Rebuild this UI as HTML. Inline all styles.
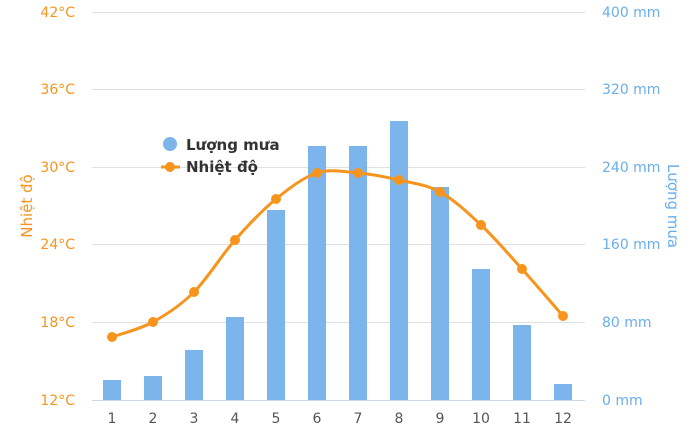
<!DOCTYPE html>
<html><head><meta charset="utf-8"><style>
body{margin:0;background:#fff}
svg{display:block;font-family:"DejaVu Sans","Liberation Sans",sans-serif}
</style></head><body>
<svg id="c" width="700" height="443" viewBox="0 0 700 443">
<g stroke="#e0e0e0" stroke-width="1">
<line x1="92" x2="585" y1="12.5" y2="12.5"/>
<line x1="92" x2="585" y1="89.5" y2="89.5"/>
<line x1="92" x2="585" y1="167.5" y2="167.5"/>
<line x1="92" x2="585" y1="244.5" y2="244.5"/>
<line x1="92" x2="585" y1="322.5" y2="322.5"/>
</g>
<line x1="92" x2="585" y1="400.5" y2="400.5" stroke="#ccd6eb"/>
<g font-size="14" fill="#f7941d" text-anchor="end">
<text x="75" y="17">42°C</text><text x="75" y="94">36°C</text><text x="75" y="172">30°C</text>
<text x="75" y="249">24°C</text><text x="75" y="327">18°C</text><text x="75" y="405">12°C</text>
</g>
<g font-size="14" fill="#6aaeeb" text-anchor="start">
<text x="602" y="17">400 mm</text><text x="602" y="94">320 mm</text><text x="602" y="172">240 mm</text>
<text x="602" y="249">160 mm</text><text x="602" y="327">80 mm</text><text x="602" y="405">0 mm</text>
</g>
<text transform="translate(32,206) rotate(-90)" text-anchor="middle" font-size="15" fill="#f7941d">Nhiệt độ</text>
<text transform="translate(668,206) rotate(90)" text-anchor="middle" font-size="15" fill="#6aaeeb">Lượng mưa</text>
<g id="bars" fill="#7cb5ec"></g>
<path id="line" fill="none" stroke="#f7941d" stroke-width="3"/>
<g id="pts" fill="#f7941d"></g>
<g id="xl" font-size="14" fill="#555" text-anchor="middle"></g>
<circle cx="170" cy="144" r="7" fill="#7cb5ec"/>
<text x="186" y="150" font-size="15" font-weight="bold" fill="#333">Lượng mưa</text>
<line x1="161" x2="180" y1="167" y2="167" stroke="#f7941d" stroke-width="3"/>
<circle cx="170" cy="167" r="5" fill="#f7941d"/>
<text x="186" y="172" font-size="15" font-weight="bold" fill="#333">Nhiệt độ</text>
</svg>
<script>
var tops=[380,376,350,317,210,146,146,121,187,269,325,384];
var ty=[337,322,292,240,199,173,173,180,192,225,269,316];
var ns="http://www.w3.org/2000/svg",b=document.getElementById("bars"),p=document.getElementById("pts"),xl=document.getElementById("xl");
var xs=[];
for(var i=0;i<12;i++){var x=112+i*41;xs.push(x);
var r=document.createElementNS(ns,"rect");r.setAttribute("x",x-9);r.setAttribute("y",tops[i]);r.setAttribute("width",18);r.setAttribute("height",400-tops[i]);b.appendChild(r);
var c=document.createElementNS(ns,"circle");c.setAttribute("cx",x);c.setAttribute("cy",ty[i]);c.setAttribute("r",5);p.appendChild(c);
var t=document.createElementNS(ns,"text");t.setAttribute("x",x);t.setAttribute("y",423);t.textContent=i+1;xl.appendChild(t);}
var d="M"+xs[0]+" "+ty[0];
for(i=0;i<11;i++){var p0=i>0?i-1:i,p3=i<10?i+2:i+1;
var c1x=xs[i]+(xs[i+1]-xs[p0])/6,c1y=ty[i]+(ty[i+1]-ty[p0])/6;
var c2x=xs[i+1]-(xs[p3]-xs[i])/6,c2y=ty[i+1]-(ty[p3]-ty[i])/6;
d+=" C"+c1x+" "+c1y+" "+c2x+" "+c2y+" "+xs[i+1]+" "+ty[i+1];}
document.getElementById("line").setAttribute("d",d);
</script>
</body></html>
